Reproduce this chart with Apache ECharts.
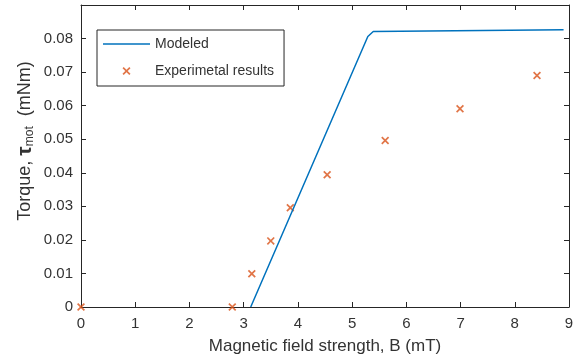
<!DOCTYPE html>
<html>
<head>
<meta charset="utf-8">
<script src="https://cdn.jsdelivr.net/npm/echarts@6/dist/echarts.min.js"></script>
<style>
  html, body { margin: 0; padding: 0; background: #fff; }
  #chart { width: 580px; height: 360px; }
</style>
</head>
<body>
<div id="chart"></div>
<script>
// Modeled torque curve (B in mT, torque in mNm)
const modeledB = [3.13, 5.29, 5.39, 8.9];
const modeledT = [0, 0.0806, 0.0821, 0.0826];

// Measured torque
const expB = [0, 2.79, 3.15, 3.50, 3.86, 4.54, 5.61, 6.99, 8.41];
const expT = [0, 0, 0.0099, 0.0197, 0.0296, 0.0394, 0.0496, 0.0591, 0.0690];

// Axis ranges and tick steps
const xRange = [0, 9];
const xStep = 1;
const yRange = [0, 0.09];
const yStep = 0.01;

const seriesNames = ['Modeled', 'Experimetal results'];

const axisColor = '#262626';
const textColor = '#333333';
const font = 'Liberation Sans, Arial, Helvetica, sans-serif';
const lineBlue = '#0072BD';
const markOrange = '#D95319';

// filled "x" marker outline
const crossPath = 'path://M0,1.5 L1.5,0 L5,3.5 L8.5,0 L10,1.5 L6.5,5 L10,8.5 L8.5,10 L5,6.5 L1.5,10 L0,8.5 L3.5,5 Z';
// thin bar used as the line sample in the legend
const lineIcon = 'path://M0,0 L47,0 L47,1.5 L0,1.5 Z';

function zip(a, b) { return a.map((v, i) => [v, b[i]]); }

const baseAxis = {
  type: 'value',
  axisLine: { show: true, onZero: false, lineStyle: { color: axisColor, width: 1 } },
  axisTick: { show: true, inside: true, length: 5, lineStyle: { color: axisColor } },
  splitLine: { show: false }
};

const chart = echarts.init(document.getElementById('chart'), null, { renderer: 'canvas' });

chart.setOption({
  animation: false,
  backgroundColor: '#ffffff',
  textStyle: { fontFamily: font },
  grid: { left: 81, right: 11, top: 5, bottom: 53, containLabel: false },
  xAxis: [
    Object.assign({}, baseAxis, {
      min: xRange[0], max: xRange[1], interval: xStep, position: 'bottom',
      axisLabel: { color: textColor, fontSize: 15, fontFamily: font, margin: 9 },
      name: 'Magnetic field strength, B (mT)',
      nameLocation: 'middle', nameGap: 31,
      nameTextStyle: { color: textColor, fontSize: 17, fontFamily: font }
    }),
    Object.assign({}, baseAxis, {
      min: xRange[0], max: xRange[1], interval: xStep, position: 'top',
      axisLabel: { show: false }
    })
  ],
  yAxis: [
    Object.assign({}, baseAxis, {
      min: yRange[0], max: yRange[1], interval: yStep, position: 'left',
      axisLabel: {
        color: textColor, fontSize: 15, fontFamily: font, margin: 8,
        formatter: v => (v > yRange[1] - yStep / 2) ? '' : (v === 0 ? '0' : v.toFixed(2))
      }
    }),
    Object.assign({}, baseAxis, {
      min: yRange[0], max: yRange[1], interval: yStep, position: 'right',
      axisLabel: { show: false }
    })
  ],
  legend: {
    orient: 'vertical',
    left: 97, top: 30,
    padding: [7, 10, 8, 6],
    itemWidth: 47, itemHeight: 8, itemGap: 13,
    backgroundColor: '#ffffff',
    borderColor: axisColor, borderWidth: 1, borderRadius: 0,
    textStyle: { color: textColor, fontSize: 14, fontFamily: font },
    data: [
      { name: seriesNames[0], icon: lineIcon },
      { name: seriesNames[1] }
    ]
  },
  graphic: [{
    type: 'text',
    x: 25, y: 141,
    rotation: Math.PI / 2,
    style: {
      text: 'Torque, {tau|τ}{sub|mot}  (mNm)',
      align: 'center', verticalAlign: 'middle',
      fill: textColor,
      font: '18px ' + font,
      rich: {
        tau: { fontSize: 21, fontFamily: font, fill: textColor, lineHeight: 22, verticalAlign: 'middle', fontWeight: 'bold' },
        sub: { fontSize: 12, fontFamily: font, fill: textColor, lineHeight: 12, verticalAlign: 'bottom' }
      }
    }
  }],
  series: [
    {
      name: seriesNames[0],
      type: 'line',
      xAxisIndex: 0, yAxisIndex: 0,
      data: zip(modeledB, modeledT),
      showSymbol: false,
      symbol: 'none',
      lineStyle: { color: lineBlue, width: 1.5 },
      itemStyle: { color: lineBlue }
    },
    {
      name: seriesNames[1],
      type: 'scatter',
      xAxisIndex: 0, yAxisIndex: 0,
      data: zip(expB, expT),
      symbol: crossPath,
      symbolSize: 8,
      itemStyle: { color: markOrange }
    }
  ]
});
</script>
</body>
</html>
